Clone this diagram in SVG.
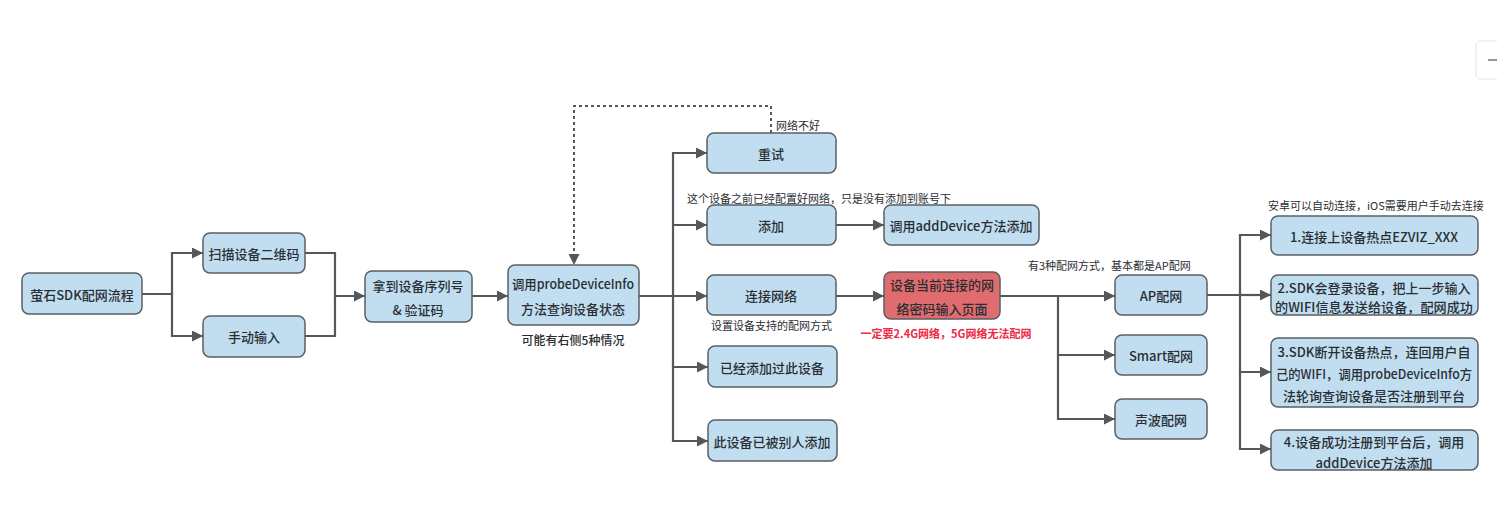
<svg xmlns="http://www.w3.org/2000/svg" width="1497" height="532" viewBox="0 0 1497 532">
<style>
.box{fill:#c1def1;stroke:#5a5f66;stroke-width:1.5}
.red{fill:#e06c6f;stroke:#5a5f66;stroke-width:1.5}
.t{font-family:"Noto Sans CJK SC","Liberation Sans",sans-serif;font-size:13px;font-weight:500;fill:#2a2e33;text-anchor:middle;dominant-baseline:central}
.lb{font-family:"Noto Sans CJK SC","Liberation Sans",sans-serif;font-size:11px;fill:#2a2e33;dominant-baseline:central}
.rl{font-family:"Noto Sans CJK SC","Liberation Sans",sans-serif;font-size:11px;font-weight:bold;fill:#ee2a44;dominant-baseline:central;text-anchor:middle}
.c{fill:none;stroke:#54575c;stroke-width:2.2}
.d{fill:none;stroke:#54575c;stroke-width:2;stroke-dasharray:3,3}
</style>
<defs>
<marker id="ah" viewBox="0 0 10 10" refX="10" refY="5" markerWidth="11" markerHeight="11" markerUnits="userSpaceOnUse" orient="auto">
<path d="M0,0 L10,5 L0,10 z" fill="#54575c"/>
</marker>
</defs>
<rect width="1497" height="532" fill="#ffffff"/>
<g id="zoom-control">
<rect x="1476" y="41" width="30" height="38" rx="5" fill="#ffffff" stroke="#e6e6e6" stroke-width="1"/>
<line x1="1488" y1="60" x2="1497" y2="60" stroke="#555" stroke-width="1.2"/>
</g>
<g id="connectors">
<path class="c" d="M142,294 H172 V253 H203" marker-end="url(#ah)"/>
<path class="c" d="M172,294 V336 H203" marker-end="url(#ah)"/>
<path class="c" d="M305,253 H335 V296 H365" marker-end="url(#ah)"/>
<path class="c" d="M305,336 H335 V296"/>
<path class="c" d="M472,296 H508" marker-end="url(#ah)"/>
<path class="c" d="M639,296 H673 V153 H707" marker-end="url(#ah)"/>
<path class="c" d="M673,225 H707" marker-end="url(#ah)"/>
<path class="c" d="M639,296 H707" marker-end="url(#ah)"/>
<path class="c" d="M673,296 V367 H708" marker-end="url(#ah)"/>
<path class="c" d="M673,367 V441 H708" marker-end="url(#ah)"/>
<path class="c" d="M836,225 H884" marker-end="url(#ah)"/>
<path class="c" d="M836,296 H884" marker-end="url(#ah)"/>
<path class="c" d="M1000,296 H1115" marker-end="url(#ah)"/>
<path class="c" d="M1058,296 V355 H1115" marker-end="url(#ah)"/>
<path class="c" d="M1058,355 V419 H1115" marker-end="url(#ah)"/>
<path class="c" d="M1207,295 H1240 V235 H1271" marker-end="url(#ah)"/>
<path class="c" d="M1240,295 H1271" marker-end="url(#ah)"/>
<path class="c" d="M1240,295 V372 H1271" marker-end="url(#ah)"/>
<path class="c" d="M1240,372 V449 H1271" marker-end="url(#ah)"/>
<path class="d" d="M771,133 V106 H574 V265" marker-end="url(#ah)"/>
</g>
<g id="labels">
<text class="lb" x="776" y="125">网络不好</text>
<text class="lb" x="687" y="198">这个设备之前已经配置好网络，只是没有添加到账号下</text>
<text class="lb" x="711" y="325">设置设备支持的配网方式</text>
<text class="lb" x="573" y="339" style="text-anchor:middle;font-size:12px;font-weight:500">可能有右侧5种情况</text>
<text class="rl" x="946" y="333">一定要2.4G网络，5G网络无法配网</text>
<text class="lb" x="1028" y="265">有3种配网方式，基本都是AP配网</text>
<text class="lb" x="1268" y="205">安卓可以自动连接，iOS需要用户手动去连接</text>
</g>
<g id="n-start"><rect class="box" x="22" y="273" width="120" height="41" rx="7"/><text class="t" x="82" y="294">萤石SDK配网流程</text></g>
<g id="n-scan"><rect class="box" x="203" y="233" width="102" height="40" rx="7"/><text class="t" x="254" y="253">扫描设备二维码</text></g>
<g id="n-manual"><rect class="box" x="203" y="316" width="102" height="41" rx="7"/><text class="t" x="254" y="336">手动输入</text></g>
<g id="n-serial"><rect class="box" x="365" y="271" width="107" height="51" rx="7"/><text class="t" x="418" y="285">拿到设备序列号</text><text class="t" x="418" y="309">&amp; 验证码</text></g>
<g id="n-probe"><rect class="box" x="508" y="265" width="131" height="60" rx="7"/><text class="t" x="573" y="283" textLength="122" lengthAdjust="spacingAndGlyphs">调用probeDeviceInfo</text><text class="t" x="573" y="308">方法查询设备状态</text></g>
<g id="n-retry"><rect class="box" x="707" y="133" width="129" height="40" rx="7"/><text class="t" x="771" y="153">重试</text></g>
<g id="n-add"><rect class="box" x="707" y="205" width="129" height="40" rx="7"/><text class="t" x="771" y="225">添加</text></g>
<g id="n-connect"><rect class="box" x="707" y="275" width="129" height="40" rx="7"/><text class="t" x="771" y="295">连接网络</text></g>
<g id="n-added"><rect class="box" x="708" y="346" width="129" height="41" rx="7"/><text class="t" x="772" y="367">已经添加过此设备</text></g>
<g id="n-others"><rect class="box" x="708" y="420" width="129" height="41" rx="7"/><text class="t" x="772" y="441">此设备已被别人添加</text></g>
<g id="n-adddevice"><rect class="box" x="884" y="205" width="155" height="40" rx="7"/><text class="t" x="961" y="225">调用addDevice方法添加</text></g>
<g id="n-password"><rect class="red" x="884" y="272" width="116" height="47" rx="7"/><text class="t" x="942" y="284">设备当前连接的网</text><text class="t" x="942" y="308">络密码输入页面</text></g>
<g id="n-ap"><rect class="box" x="1115" y="275" width="92" height="40" rx="7"/><text class="t" x="1161" y="295">AP配网</text></g>
<g id="n-smart"><rect class="box" x="1115" y="335" width="92" height="40" rx="7"/><text class="t" x="1161" y="355">Smart配网</text></g>
<g id="n-sound"><rect class="box" x="1115" y="399" width="92" height="40" rx="7"/><text class="t" x="1161" y="419">声波配网</text></g>
<g id="n-step1"><rect class="box" x="1271" y="216" width="207" height="39" rx="7"/><text class="t" x="1374" y="236">1.连接上设备热点EZVIZ_XXX</text></g>
<g id="n-step2"><rect class="box" x="1271" y="275" width="207" height="40" rx="7"/><text class="t" x="1374" y="287">2.SDK会登录设备，把上一步输入</text><text class="t" x="1374" y="306" textLength="198" lengthAdjust="spacingAndGlyphs">的WIFI信息发送给设备，配网成功</text></g>
<g id="n-step3"><rect class="box" x="1271" y="338" width="207" height="69" rx="7"/><text class="t" x="1374" y="351">3.SDK断开设备热点，连回用户自</text><text class="t" x="1374" y="373" textLength="196" lengthAdjust="spacingAndGlyphs">己的WIFI，调用probeDeviceInfo方</text><text class="t" x="1374" y="395">法轮询查询设备是否注册到平台</text></g>
<g id="n-step4"><rect class="box" x="1271" y="430" width="207" height="40" rx="7"/><text class="t" x="1374" y="441">4.设备成功注册到平台后，调用</text><text class="t" x="1374" y="462">addDevice方法添加</text></g>
</svg>
